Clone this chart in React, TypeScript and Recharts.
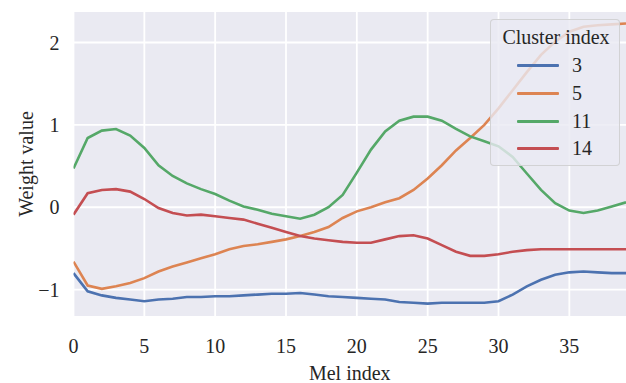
import { CartesianGrid, Legend, Line, LineChart, XAxis, YAxis } from "recharts"

const melIndex = Array.from({ length: 40 }, (_, i) => i)

const cluster3 = [
  -0.8, -1.02, -1.07, -1.1, -1.12, -1.14, -1.12, -1.11, -1.09, -1.09,
  -1.08, -1.08, -1.07, -1.06, -1.05, -1.05, -1.04, -1.06, -1.08, -1.09,
  -1.1, -1.11, -1.12, -1.15, -1.16, -1.17, -1.16, -1.16, -1.16, -1.16,
  -1.14, -1.06, -0.96, -0.88, -0.82, -0.79, -0.78, -0.79, -0.8, -0.8,
]
const cluster5 = [
  -0.66, -0.95, -0.99, -0.96, -0.92, -0.86, -0.78, -0.72, -0.67, -0.62,
  -0.57, -0.51, -0.47, -0.45, -0.42, -0.39, -0.35, -0.3, -0.24, -0.13,
  -0.05, 0.0, 0.06, 0.11, 0.21, 0.35, 0.51, 0.69, 0.84, 1.0,
  1.2, 1.42, 1.64, 1.85, 2.01, 2.13, 2.19, 2.21, 2.22, 2.23,
]
const cluster11 = [
  0.47, 0.84, 0.93, 0.95, 0.87, 0.72, 0.51, 0.38, 0.29, 0.22,
  0.16, 0.08, 0.01, -0.03, -0.08, -0.11, -0.14, -0.09, 0.0, 0.15,
  0.42, 0.7, 0.92, 1.05, 1.1, 1.1, 1.05, 0.95, 0.86, 0.8,
  0.74, 0.61, 0.41, 0.21, 0.05, -0.04, -0.07, -0.04, 0.01, 0.06,
]
const cluster14 = [
  -0.09, 0.17, 0.21, 0.22, 0.19, 0.1, -0.01, -0.07, -0.1, -0.09,
  -0.11, -0.13, -0.15, -0.2, -0.25, -0.3, -0.35, -0.38, -0.4, -0.42,
  -0.43, -0.43, -0.39, -0.35, -0.34, -0.38, -0.46, -0.54, -0.59, -0.59,
  -0.57, -0.54, -0.52, -0.51, -0.51, -0.51, -0.51, -0.51, -0.51, -0.51,
]

const xTicks = [0, 5, 10, 15, 20, 25, 30, 35]
const yTicks = [-1, 0, 1, 2]

const series = [
  { key: "c3", name: "3", color: "#4C72B0", values: cluster3 },
  { key: "c5", name: "5", color: "#DD8452", values: cluster5 },
  { key: "c11", name: "11", color: "#55A868", values: cluster11 },
  { key: "c14", name: "14", color: "#C44E52", values: cluster14 },
]

const data = melIndex.map((mel, i) => {
  const row: Record<string, number> = { mel }
  series.forEach((s) => {
    row[s.key] = s.values[i]
  })
  return row
})

const font = "Liberation Serif, serif"
const textColor = "#262626"
const textStyle = { fill: textColor, fontSize: 20, fontFamily: font, style: { fontFamily: font } }

function LegendBox() {
  return (
    <div
      style={{
        position: "relative",
        width: 130,
        height: 147,
        boxSizing: "border-box",
        background: "rgba(234,234,242,0.8)",
        border: "1px solid rgba(204,204,204,0.8)",
        borderRadius: 4,
        fontFamily: font,
        color: textColor,
        fontSize: 20,
      }}
    >
      <div style={{ position: "absolute", top: 5, left: 0, width: 130, textAlign: "center", lineHeight: "24px" }}>
        Cluster index
      </div>
      {series.map((s, i) => (
        <div key={s.key} style={{ position: "absolute", top: 33 + i * 27.8, left: 0, height: 24, width: 130 }}>
          <div
            style={{
              position: "absolute",
              left: 26,
              top: 11,
              width: 42,
              height: 3,
              background: s.color,
              borderRadius: 1,
            }}
          />
          <div style={{ position: "absolute", left: 81, top: 0, lineHeight: "24px" }}>{s.name}</div>
        </div>
      ))}
    </div>
  )
}

export default function App() {
  return (
    <div style={{ position: "absolute", left: 0, top: 0, background: "#fff", fontFamily: font }}>
      <LineChart
        width={626}
        height={383}
        data={data}
        margin={{ top: 12, right: 0, left: 0, bottom: 0 }}
        style={{ fontFamily: font }}
      >
        <CartesianGrid fill="#EAEAF2" stroke="#ffffff" strokeWidth={1.8} horizontalValues={yTicks} verticalValues={xTicks} />
        <XAxis
          dataKey="mel"
          type="number"
          domain={[0, 39]}
          ticks={xTicks}
          allowDataOverflow
          axisLine={false}
          tickLine={false}
          height={67}
          tickMargin={17}
          tick={textStyle}
          label={{ value: "Mel index", position: "insideBottom", offset: 3, ...textStyle }}
        />
        <YAxis
          type="number"
          domain={[-1.32, 2.37]}
          ticks={yTicks}
          allowDataOverflow
          axisLine={false}
          tickLine={false}
          width={73.5}
          tickMargin={8}
          tickFormatter={(v: number) => (v < 0 ? `\u2212${Math.abs(v)}` : `${v}`)}
          tick={textStyle}
          label={{
            value: "Weight value",
            angle: -90,
            position: "insideLeft",
            offset: 26,
            fill: textColor,
            fontSize: 20,
            fontFamily: font,
            style: { textAnchor: "middle", fontFamily: font },
          }}
        />
        {series.map((s) => (
          <Line
            key={s.key}
            dataKey={s.key}
            name={s.name}
            type="linear"
            stroke={s.color}
            strokeWidth={2.6}
            dot={false}
            activeDot={false}
            isAnimationActive={false}
          />
        ))}
        <Legend
          layout="horizontal"
          verticalAlign="middle"
          align="center"
          wrapperStyle={{ position: "absolute", left: 490, top: 19, width: 130, height: 147 }}
          content={() => <LegendBox />}
        />
      </LineChart>
    </div>
  )
}
